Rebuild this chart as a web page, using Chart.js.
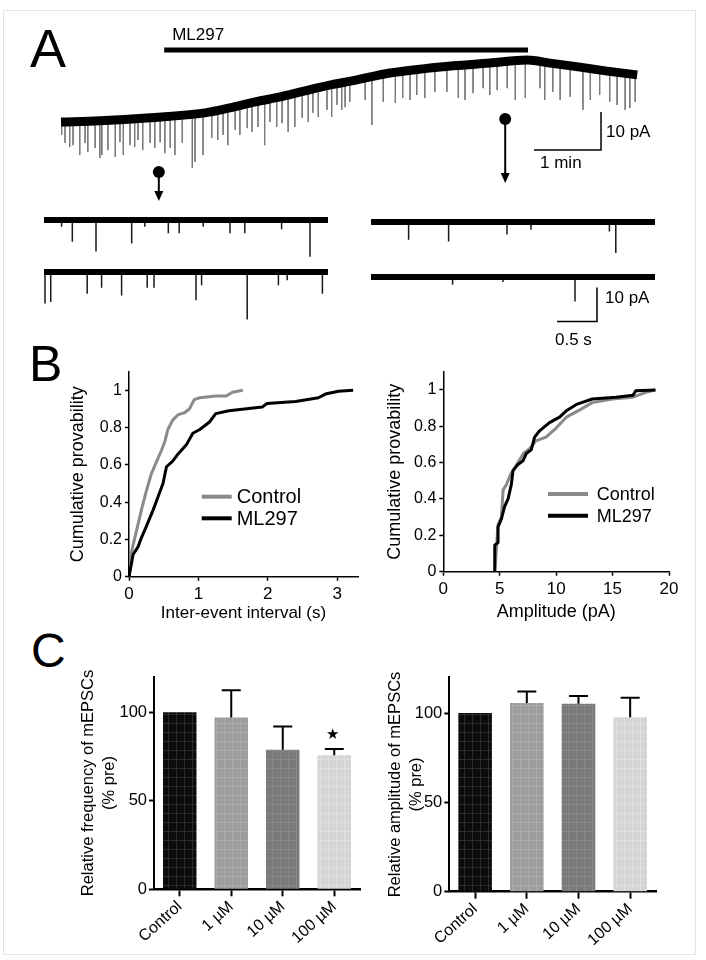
<!DOCTYPE html>
<html><head><meta charset="utf-8">
<script src="https://cdn.jsdelivr.net/npm/chart.js@4.4.1/dist/chart.umd.min.js"></script>
<style>
html,body{margin:0;padding:0;background:#fff;}
body{width:706px;height:960px;position:relative;overflow:hidden;font-family:'Liberation Sans',Arial,sans-serif;}
#frame{position:absolute;left:3px;top:10px;width:693px;height:945px;border:1px solid #e4e4e4;box-sizing:border-box;}
canvas{position:absolute;}
.lbl{position:absolute;line-height:1;color:#000;font-family:'Liberation Sans',Arial,sans-serif;}
</style></head><body>
<div id="frame"></div>
<div class="lbl" style="left:30px;top:21px;font-size:54px">A</div>
<div class="lbl" style="left:29px;top:339px;font-size:50px">B</div>
<div class="lbl" style="left:31px;top:627px;font-size:48px">C</div>
<canvas id="cMain"></canvas>
<canvas id="cS1"></canvas><canvas id="cS2"></canvas><canvas id="cS3"></canvas><canvas id="cS4"></canvas>
<canvas id="cB1"></canvas><canvas id="cB2"></canvas>
<canvas id="cC1"></canvas><canvas id="cC2"></canvas>
<script>
// ---------------- DATA ----------------
// Panel A: slow recording (time in min, current in pA relative to start)
const traceT = [0, 0.58, 1.33, 2.15, 2.52, 2.90, 3.27, 3.64, 4.01, 4.34, 4.91, 5.66, 6.40, 6.96, 7.30, 7.64, 8.15, 8.60];
const traceI = [0, 0.3, 1.1, 2.4, 3.7, 5.3, 6.6, 8.2, 9.7, 10.8, 12.9, 14.5, 15.5, 16.3, 15.5, 14.7, 13.4, 12.4];
const mainSpikeT = [0.01,0.06,0.13,0.18,0.28,0.36,0.40,0.51,0.58,0.61,0.70,0.81,0.88,0.93,1.03,1.10,1.15,1.22,1.33,1.40,1.48,1.55,1.63,1.70,1.81,1.96,2.00,2.12,2.25,2.34,2.42,2.49,2.60,2.67,2.78,2.85,2.94,3.04,3.12,3.22,3.30,3.39,3.49,3.60,3.69,3.76,3.84,3.97,4.04,4.12,4.19,4.24,4.31,4.54,4.64,4.81,4.99,5.10,5.21,5.31,5.43,5.58,5.76,5.93,6.03,6.15,6.30,6.40,6.51,6.66,6.78,6.93,7.15,7.22,7.34,7.45,7.60,7.79,7.90,8.04,8.19,8.30,8.42,8.49,8.57];
const mainSpikeBase = [0,0,0,0,0.1,0.1,0.2,0.2,0.3,0.3,0.4,0.5,0.6,0.6,0.7,0.8,0.9,1.0,1.1,1.2,1.3,1.4,1.6,1.7,1.9,2.1,2.1,2.3,2.8,3.1,3.4,3.6,4.0,4.3,4.6,5.1,5.4,5.7,5.9,6.4,6.7,7.1,7.5,8.2,8.4,8.8,9.1,9.6,9.8,10.1,10.3,10.5,10.7,11.6,11.9,12.5,13.0,13.3,13.4,13.7,13.9,14.3,14.6,14.8,15.1,15.2,15.4,15.5,15.7,15.9,16.1,16.3,15.9,15.8,15.4,15.2,14.8,14.3,14.0,13.7,13.3,13.0,12.8,12.6,12.4];
const mainSpikeTip = [-3.4,-5.5,-6.6,-6.1,-8.7,-5.5,-7.9,-6.8,-9.5,-8.7,-7.4,-9.2,-5.3,-8.7,-6.1,-6.6,-4.7,-7.4,-5.5,-6.8,-5.3,-8.2,-6.8,-8.7,-5.5,-12.1,-10.5,-8.7,-4.2,-4.7,-3.4,-6.1,-2.1,-3.4,-1.6,-2.6,-1.3,-6.1,0,-1.3,-0.3,-2.6,-1.3,1.1,0,2.4,1.3,3.2,1.3,4.5,3.2,3.9,5.3,5.8,-0.8,5.3,5.0,6.3,5.8,7.1,6.3,7.9,7.9,6.3,5.8,7.6,8.9,7.1,8.4,8.9,5.8,6.3,8.9,5.8,7.9,5.8,6.6,3.2,5.8,7.1,5.3,4.5,3.2,3.7,5.3];
const drugWindow = [1.54, 6.97];      // ML297 application (min)
const sampleTimes = [1.46, 6.63];     // where the expanded sweeps were taken (min)
const drugLabel = 'ML297';

// Panel A: expanded sweeps (time in s, event amplitude in pA)
const sweepDur = 3.55;
const s1T = [0.22, 0.354, 0.65, 1.096, 1.26, 1.554, 1.69, 1.99, 2.325, 2.51, 2.97, 3.325];
const s1A = [-2.0, -6.4, -9.3, -6.9, -2.0, -3.9, -3.9, -2.0, -3.9, -3.9, -2.7, -10.8];
const s2T = [0.0125, 0.084, 0.54, 0.72, 0.97, 1.29, 1.375, 1.9, 1.97, 2.54, 2.93, 3.04, 3.48];
const s2A = [-9.3, -8.8, -6.4, -4.6, -6.9, -4.6, -4.6, -8.3, -3.9, -14.0, -3.9, -2.4, -6.4];
const s3T = [0.47, 0.97, 1.70, 2.0, 2.98, 3.06];
const s3A = [-5.2, -5.7, -3.7, -2.3, -2.8, -9.1];
const s4T = [1.02, 1.65, 2.55];
const s4A = [-2.3, -1.5, -7.2];

// Panel B: cumulative distributions
const ieiCtrlX = [0, 0.04, 0.11, 0.18, 0.25, 0.32, 0.40, 0.47, 0.52, 0.56, 0.63, 0.71, 0.80, 0.87, 0.94, 1.02, 1.25, 1.40, 1.49, 1.64];
const ieiCtrlY = [0, 0.14, 0.25, 0.36, 0.46, 0.55, 0.62, 0.68, 0.73, 0.79, 0.84, 0.87, 0.88, 0.90, 0.95, 0.96, 0.97, 0.97, 0.99, 1.0];
const ieiMLX = [0, 0.06, 0.13, 0.18, 0.25, 0.35, 0.42, 0.49, 0.54, 0.63, 0.71, 0.83, 0.92, 1.02, 1.16, 1.25, 1.44, 1.92, 1.99, 2.40, 2.73, 2.83, 3.02, 3.23];
const ieiMLY = [0, 0.12, 0.16, 0.21, 0.27, 0.36, 0.43, 0.50, 0.59, 0.62, 0.66, 0.71, 0.77, 0.79, 0.83, 0.875, 0.89, 0.91, 0.93, 0.94, 0.96, 0.98, 0.995, 1.0];
const ampCtrlX = [4.56, 4.7, 4.85, 5.15, 5.3, 5.6, 6.0, 6.5, 7.1, 7.7, 8.2, 9.1, 10.0, 10.9, 12.1, 13.2, 15.0, 16.8, 17.9, 18.8];
const ampCtrlY = [0, 0.12, 0.26, 0.30, 0.45, 0.48, 0.54, 0.59, 0.65, 0.68, 0.72, 0.74, 0.79, 0.85, 0.89, 0.93, 0.95, 0.96, 0.985, 1.0];
const ampMLX = [4.56, 4.56, 4.85, 4.85, 5.15, 5.44, 5.74, 6.03, 6.18, 6.62, 7.06, 7.35, 7.79, 8.09, 8.53, 9.41, 10.3, 10.9, 11.8, 13.2, 15.3, 16.8, 17.06, 18.8];
const ampMLY = [0, 0.146, 0.16, 0.246, 0.29, 0.36, 0.40, 0.48, 0.556, 0.59, 0.61, 0.65, 0.67, 0.74, 0.775, 0.82, 0.85, 0.885, 0.92, 0.95, 0.96, 0.97, 0.995, 1.0];
const cdfYTicks = [0, 0.2, 0.4, 0.6, 0.8, 1];
const ieiXTicks = [0, 1, 2, 3];
const ampXTicks = [0, 5, 10, 15, 20];
const seriesNames = ['Control', 'ML297'];

// Panel C: bar charts
const doseLabels = ['Control', '1 µM', '10 µM', '100 µM'];
const freqMean = [100, 97, 78.8, 75.6];
const freqErr = [0, 15.3, 13.1, 3.6];
const freqSig = ['', '', '', '★'];
const ampMean = [100, 105.6, 105.2, 97.6];
const ampErr = [0, 6.5, 4.3, 11.0];
const ampSig = ['', '', '', ''];
const barYTicks = [0, 50, 100];

// ---------------- SETUP ----------------
const FONT = "'Liberation Sans', Arial, sans-serif";
Chart.defaults.font.family = FONT;
Chart.defaults.color = '#000';
Chart.defaults.animation = false;
Chart.defaults.responsive = false;
Chart.defaults.devicePixelRatio = 1;
Chart.defaults.events = [];
Chart.defaults.plugins.legend.display = false;
Chart.defaults.plugins.tooltip.enabled = false;

function place(id, left, top, w, h) {
  const c = document.getElementById(id);
  c.width = w; c.height = h;
  c.style.left = left + 'px'; c.style.top = top + 'px';
  c.style.width = w + 'px'; c.style.height = h + 'px';
  return c;
}
const pts = (xs, ys) => xs.map((x, i) => ({x: x, y: ys[i]}));
function spikeSegs(ts, base, tips) {
  const out = [];
  ts.forEach((t, i) => { out.push({x: t, y: base[i]}, {x: t, y: tips[i]}, {x: t, y: null}); });
  return out;
}

// ---------------- PANEL A: main trace ----------------
const mainDeco = {
  id: 'mainDeco',
  afterDraw(chart) {
    const {ctx, scales: {x, y}} = chart;
    ctx.save();
    const x0 = x.getPixelForValue(drugWindow[0]), x1 = x.getPixelForValue(drugWindow[1]);
    ctx.fillStyle = '#000';
    ctx.fillRect(x0, 47.5, x1 - x0, 5);
    ctx.font = '17px ' + FONT; ctx.textBaseline = 'alphabetic'; ctx.textAlign = 'left';
    ctx.fillText(drugLabel, x0 + 8, 40);
    const cx = x.getPixelForValue(8.06), cy = y.getPixelForValue(-7.4);
    const vy = y.getPixelForValue(-7.4 + 10), hx = x.getPixelForValue(8.06 - 1);
    ctx.strokeStyle = '#000'; ctx.lineWidth = 1.5;
    ctx.beginPath(); ctx.moveTo(cx, vy); ctx.lineTo(cx, cy); ctx.lineTo(hx, cy); ctx.stroke();
    ctx.fillText('10 pA', cx + 5, (vy + cy) / 2 + 6);
    ctx.fillText('1 min', hx + 6, cy + 18);
    const pinGeo = [{c: 172, tip: 201}, {c: 119, tip: 183}];
    sampleTimes.forEach((t, i) => {
      const px = x.getPixelForValue(t), g = pinGeo[i];
      ctx.beginPath(); ctx.arc(px, g.c, 6, 0, Math.PI * 2); ctx.fill();
      ctx.lineWidth = 2;
      ctx.beginPath(); ctx.moveTo(px, g.c); ctx.lineTo(px, g.tip - 8); ctx.stroke();
      ctx.beginPath(); ctx.moveTo(px - 4.5, g.tip - 10); ctx.lineTo(px + 4.5, g.tip - 10); ctx.lineTo(px, g.tip); ctx.closePath(); ctx.fill();
    });
    ctx.restore();
  }
};
new Chart(place('cMain', 0, 0, 706, 215), {
  type: 'line',
  data: {datasets: [
    {data: pts(traceT, traceI), borderColor: '#000', borderWidth: 9, pointRadius: 0, cubicInterpolationMode: 'monotone', clip: false},
    {data: spikeSegs(mainSpikeT, mainSpikeBase, mainSpikeTip), borderColor: '#7a7a7a', borderWidth: 1, pointRadius: 0, spanGaps: false, clip: false}
  ]},
  options: {
    layout: {padding: {left: 61, top: 46, right: 68.8, bottom: 17}},
    scales: {x: {type: 'linear', min: 0, max: 8.6, display: false}, y: {min: -20, max: 20, display: false}}
  },
  plugins: [mainDeco]
});

// ---------------- PANEL A: expanded sweeps ----------------
function sweep(id, box, ts, amps, extra) {
  const pad = 40;
  const c = place(id, box.left - pad, box.top - pad, box.width + 2 * pad, box.height + 2 * pad);
  return new Chart(c, {
    type: 'line',
    data: {datasets: [
      {data: [{x: 0, y: 0}, {x: sweepDur, y: 0}], borderColor: '#000', borderWidth: 6, pointRadius: 0, clip: false},
      {data: spikeSegs(ts, ts.map(() => 0), amps), borderColor: '#1a1a1a', borderWidth: 1.5, pointRadius: 0, spanGaps: false, clip: false}
    ]},
    options: {
      layout: {padding: pad},
      scales: {x: {type: 'linear', min: 0, max: sweepDur, display: false}, y: {min: -15, max: 5, display: false}}
    },
    plugins: extra ? [extra] : []
  });
}
const sweepScale = {
  id: 'sweepScale',
  afterDraw(chart) {
    const {ctx, scales: {x, y}} = chart;
    const cx = x.getPixelForValue(2.825), cy = y.getPixelForValue(-13.1);
    const vy = y.getPixelForValue(-13.1 + 10), hx = x.getPixelForValue(2.825 - 0.5);
    ctx.save();
    ctx.strokeStyle = '#000'; ctx.lineWidth = 1.5;
    ctx.beginPath(); ctx.moveTo(cx, vy); ctx.lineTo(cx, cy); ctx.lineTo(hx, cy); ctx.stroke();
    ctx.fillStyle = '#000'; ctx.font = '17px ' + FONT; ctx.textBaseline = 'alphabetic';
    ctx.fillText('10 pA', cx + 8, vy + 15);
    ctx.fillText('0.5 s', hx - 2, cy + 23);
    ctx.restore();
  }
};
sweep('cS1', {left: 44, top: 203, width: 284, height: 68}, s1T, s1A);
sweep('cS2', {left: 44, top: 254.7, width: 284, height: 68}, s2T, s2A);
sweep('cS3', {left: 371, top: 205.3, width: 284, height: 68}, s3T, s3A);
sweep('cS4', {left: 371, top: 260.3, width: 284, height: 68}, s4T, s4A, sweepScale);

// ---------------- PANEL B ----------------
function legendPlugin(pos) {
  return {
    id: 'lg',
    afterDraw(chart) {
      const {ctx, chartArea: a} = chart;
      ctx.save();
      chart.data.datasets.forEach((ds, i) => {
        const y = a.top + pos.y + i * pos.gap;
        ctx.strokeStyle = ds.borderColor; ctx.lineWidth = 4;
        ctx.beginPath(); ctx.moveTo(a.left + pos.x, y); ctx.lineTo(a.left + pos.x + pos.len, y); ctx.stroke();
        ctx.fillStyle = '#000'; ctx.font = pos.size + 'px ' + FONT; ctx.textBaseline = 'middle'; ctx.textAlign = 'left';
        ctx.fillText(ds.label, a.left + pos.x + pos.len + pos.tg, y + 1);
      });
      ctx.restore();
    }
  };
}
function axisCommon(extra) {
  return Object.assign({
    grid: {display: true, drawOnChartArea: false, drawTicks: true, tickLength: 4, tickColor: '#000', tickWidth: 1.5},
    border: {display: true, color: '#000', width: 1.5}
  }, extra);
}
function cdfChart(id, canvasBox, geo, xTicks, xMax, xTitle, ctrl, ml, lg) {
  return new Chart(place(id, canvasBox.left, canvasBox.top, canvasBox.width, canvasBox.height), {
    type: 'line',
    data: {datasets: [
      {label: seriesNames[0], data: ctrl, borderColor: '#8a8a8a', borderWidth: 3, pointRadius: 0, order: 2, borderJoinStyle: 'round'},
      {label: seriesNames[1], data: ml, borderColor: '#000', borderWidth: 3, pointRadius: 0, order: 1, borderJoinStyle: 'round'}
    ]},
    options: {
      layout: {padding: {top: geo.padTop, right: geo.padRight, left: 0, bottom: 0}},
      scales: {
        x: axisCommon({type: 'linear', min: 0, max: xMax,
          afterBuildTicks: s => { s.ticks = xTicks.map(v => ({value: v})); },
          afterFit: s => { s.height = geo.xH; },
          ticks: {font: {size: geo.xTickSize}, padding: 3, maxRotation: 0, autoSkip: false, color: '#000'},
          title: {display: true, text: xTitle, font: {size: geo.xTitleSize}, padding: {bottom: geo.xTitlePad}, color: '#000'}
        }),
        y: axisCommon({min: 0, max: 1.1,
          afterBuildTicks: s => { s.ticks = cdfYTicks.map(v => ({value: v})); },
          afterFit: s => { s.width = geo.yW; },
          ticks: {font: {size: 16}, padding: 3, callback: v => String(v), color: '#000'},
          title: {display: true, text: 'Cumulative provability', font: {size: 18}, padding: {top: geo.yTitlePad}, color: '#000'}
        })
      }
    },
    plugins: [legendPlugin(lg)]
  });
}
cdfChart('cB1', {left: 40, top: 355, width: 330, height: 275},
  {padTop: 16.7, padRight: 12, xH: 53.3, yW: 89, xTickSize: 17, xTitleSize: 17, xTitlePad: 6, yTitlePad: 27.5},
  ieiXTicks, 3.3, 'Inter-event interval (s)', pts(ieiCtrlX, ieiCtrlY), pts(ieiMLX, ieiMLY),
  {x: 72.7, y: 125, gap: 21.6, len: 30, tg: 5, size: 20});
cdfChart('cB2', {left: 360, top: 355, width: 336, height: 275},
  {padTop: 16.7, padRight: 27, xH: 58.3, yW: 83.3, xTickSize: 17, xTitleSize: 18, xTitlePad: 7.5, yTitlePad: 24},
  ampXTicks, 20, 'Amplitude (pA)', pts(ampCtrlX, ampCtrlY), pts(ampMLX, ampMLY),
  {x: 104.7, y: 122.3, gap: 21.7, len: 40, tg: 8.7, size: 18});

// ---------------- PANEL C ----------------
function gridPattern(base, line) {
  const c = document.createElement('canvas'); c.width = 8; c.height = 9;
  const g = c.getContext('2d');
  g.fillStyle = base; g.fillRect(0, 0, 8, 9);
  g.fillStyle = line; g.fillRect(0, 0, 8, 1); g.fillRect(0, 0, 1, 9);
  return g.createPattern(c, 'repeat');
}
const barFills = () => [gridPattern('#0c0c0c', '#2c2c2c'), gridPattern('#9d9d9f', '#ababad'), gridPattern('#7a7a7a', '#888888'), gridPattern('#d5d5d5', '#e0e0e0')];
function errPlugin(err, sig) {
  return {
    id: 'err',
    afterDatasetsDraw(chart) {
      const ctx = chart.ctx, y = chart.scales.y, meta = chart.getDatasetMeta(0);
      const vals = chart.data.datasets[0].data;
      ctx.save(); ctx.strokeStyle = '#000'; ctx.lineWidth = 2; ctx.fillStyle = '#000';
      meta.data.forEach((bar, i) => {
        if (err[i] > 0) {
          const yt = y.getPixelForValue(vals[i] + err[i]);
          ctx.beginPath(); ctx.moveTo(bar.x, bar.y); ctx.lineTo(bar.x, yt);
          ctx.moveTo(bar.x - 9.5, yt); ctx.lineTo(bar.x + 9.5, yt); ctx.stroke();
          if (sig[i]) {
            ctx.font = '15px "DejaVu Sans"'; ctx.textAlign = 'center'; ctx.textBaseline = 'middle';
            ctx.fillText(sig[i], bar.x - 1.5, yt - 14);
          }
        }
      });
      ctx.restore();
    }
  };
}
function barChart(id, canvasBox, geo, means, err, sig, title) {
  return new Chart(place(id, canvasBox.left, canvasBox.top, canvasBox.width, canvasBox.height), {
    type: 'bar',
    data: {labels: doseLabels, datasets: [{data: means, backgroundColor: barFills(), borderWidth: 0, categoryPercentage: 1, barPercentage: 0.65}]},
    options: {
      layout: {padding: {top: geo.padTop, right: geo.padRight, left: 0, bottom: 0}},
      scales: {
        x: {
          afterFit: s => { s.height = geo.xH; },
          ticks: {font: {size: 16}, minRotation: 42, maxRotation: 42, padding: 1, autoSkip: false, color: '#000'},
          grid: {display: true, offset: false, drawOnChartArea: false, tickLength: 7, tickColor: '#000', tickWidth: 2},
          border: {display: true, color: '#000', width: 2.5}
        },
        y: {
          min: 0, max: 120,
          afterBuildTicks: s => { s.ticks = barYTicks.map(v => ({value: v})); },
          afterFit: s => { s.width = geo.yW; },
          ticks: {font: {size: 16.5}, padding: 2, color: '#000'},
          grid: {display: true, drawOnChartArea: false, tickLength: 5, tickColor: '#000', tickWidth: 2},
          border: {display: true, color: '#000', width: 2},
          title: {display: true, text: title, font: {size: 16.5, lineHeight: 1.3}, padding: {top: geo.yTitlePad}, color: '#000'}
        }
      }
    },
    plugins: [errPlugin(err, sig)]
  });
}
barChart('cC1', {left: 40, top: 660, width: 330, height: 295},
  {padTop: 16.7, padRight: 10, xH: 65.7, yW: 114, yTitlePad: 37.6},
  freqMean, freqErr, freqSig, ['Relative frequency of mEPSCs', '(% pre)']);
barChart('cC2', {left: 360, top: 660, width: 336, height: 295},
  {padTop: 17.3, padRight: 40, xH: 63.3, yW: 89.3, yTitlePad: 24.3},
  ampMean, ampErr, ampSig, ['Relative amplitude of mEPSCs', '(% pre)']);
</script>
</body></html>
